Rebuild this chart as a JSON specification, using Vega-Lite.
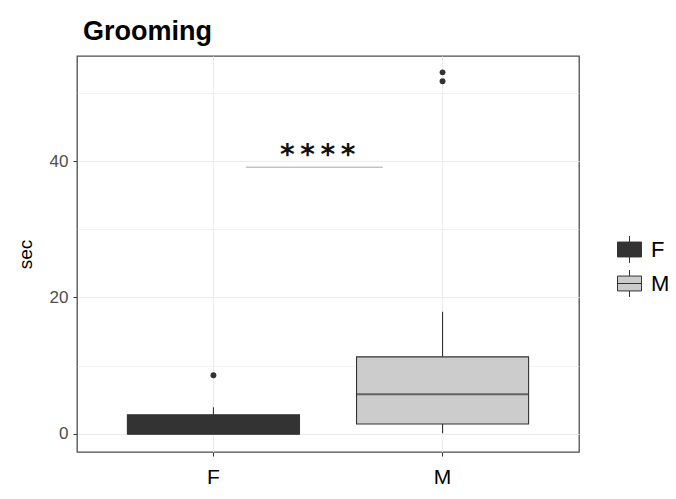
{
  "$schema": "https://vega.github.io/schema/vega-lite/v6.json",
  "width": 502,
  "height": 396,
  "autosize": {"type": "none"},
  "padding": {"left": 77, "top": 56, "right": 97, "bottom": 47},
  "background": "white",
  "title": {"text": "Grooming", "anchor": "start", "frame": "group", "font": "Liberation Sans", "fontSize": 27, "fontWeight": "bold", "color": "#000000", "baseline": "bottom", "offset": -17, "dx": 6},
  "config": {
    "view": {"stroke": "#4D4D4D", "strokeWidth": 1.3},
    "legend": {"padding": 0}
  },
  "datasets": {
    "boxes": [
      {"sex": "F", "lower": 0, "q1": 0, "median": 0, "q3": 2.8, "upper": 3.9},
      {"sex": "M", "lower": 0.1, "q1": 1.45, "median": 5.8, "q3": 11.3, "upper": 17.9}
    ],
    "outliers": [
      {"sex": "F", "sec": 8.6},
      {"sex": "M", "sec": 51.7},
      {"sex": "M", "sec": 53.0}
    ],
    "signif": [
      {"x1": 1.14, "x2": 1.74, "xm": 1.455, "y": 39.1, "label": "*\u2009*\u2009*\u2009*"}
    ]
  },
  "layer": [
    {
      "layer": [
        {
          "data": {"name": "boxes"},
          "mark": {"type": "rule", "color": "#333333", "strokeWidth": 1.1},
          "encoding": {
            "x": {"field": "sex", "type": "nominal", "title": null,
              "scale": {"paddingInner": 0.249, "paddingOuter": 0.22},
              "axis": {"labelFont": "Liberation Sans", "labelFontSize": 21, "labelColor": "#000000", "labelAngle": 0, "domain": false, "ticks": true, "tickColor": "#333333", "tickSize": 4, "labelPadding": 10, "grid": true, "gridColor": "#EBEBEB", "gridWidth": 1, "bandPosition": 0.5}},
            "y": {"field": "lower", "type": "quantitative", "title": "sec",
              "scale": {"domain": [-2.65, 55.4], "nice": false, "zero": false},
              "axis": {"values": [0, 10, 20, 30, 40, 50], "labelExpr": "datum.value % 20 == 0 ? datum.label : ''",
                "tickOpacity": {"condition": {"test": "datum.value % 20 == 0", "value": 1}, "value": 0},
                "gridWidth": {"condition": {"test": "datum.value % 20 == 0", "value": 1.1}, "value": 0.6},
                "gridColor": "#EBEBEB", "grid": true, "domain": false, "tickColor": "#333333", "tickSize": 4,
                "labelFont": "Liberation Sans", "labelFontSize": 17, "labelColor": "#4D4D4D", "labelPadding": 5,
                "titleFont": "Liberation Sans", "titleFontSize": 19, "titleFontWeight": "normal", "titleColor": "#000000", "titlePadding": 14}},
            "y2": {"field": "upper"}
          }
        },
        {
          "data": {"name": "boxes"},
          "mark": {"type": "bar", "stroke": "#333333", "strokeWidth": 1.1},
          "encoding": {
            "x": {"field": "sex", "type": "nominal"},
            "y": {"field": "q1", "type": "quantitative", "title": "sec"},
            "y2": {"field": "q3"},
            "fill": {"field": "sex", "type": "nominal",
              "scale": {"domain": ["F", "M"], "range": ["#333333", "#CCCCCC"]},
              "legend": {"orient": "none", "legendX": 540, "legendY": 181, "title": null,
                "symbolType": "M-1,-0.62H1V0.62H-1Z M0,-1.12V-0.62 M0,0.62V1.12 M-1,0H1",
                "symbolSize": 576, "symbolStrokeColor": "#333333", "symbolStrokeWidth": 1,
                "labelFont": "Liberation Sans", "labelFontSize": 22, "labelColor": "#000000", "labelOffset": 9, "rowPadding": 3}}
          }
        },
        {
          "data": {"name": "boxes"},
          "mark": {"type": "tick", "color": "#333333", "thickness": 2, "size": 172},
          "encoding": {
            "x": {"field": "sex", "type": "nominal"},
            "y": {"field": "median", "type": "quantitative", "title": "sec"}
          }
        },
        {
          "data": {"name": "outliers"},
          "mark": {"type": "circle", "size": 34, "color": "#333333", "opacity": 1},
          "encoding": {
            "x": {"field": "sex", "type": "nominal"},
            "y": {"field": "sec", "type": "quantitative", "title": "sec"}
          }
        }
      ]
    },
    {
      "data": {"name": "signif"},
      "layer": [
        {
          "mark": {"type": "rule", "color": "#C4C4C4", "strokeWidth": 1.5},
          "encoding": {
            "x": {"field": "x1", "type": "quantitative", "scale": {"domain": [0.4, 2.6], "nice": false, "zero": false}, "axis": null},
            "x2": {"field": "x2"},
            "y": {"field": "y", "type": "quantitative", "title": "sec"}
          }
        },
        {
          "mark": {"type": "text", "font": "DejaVu Sans", "fontWeight": "bold", "fontSize": 28, "baseline": "alphabetic", "color": "#111111", "dy": -3},
          "encoding": {
            "x": {"field": "xm", "type": "quantitative", "scale": {"domain": [0.4, 2.6], "nice": false, "zero": false}, "axis": null},
            "y": {"field": "y", "type": "quantitative", "title": "sec"},
            "text": {"field": "label"}
          }
        }
      ]
    }
  ],
  "resolve": {"scale": {"x": "independent"}}
}
